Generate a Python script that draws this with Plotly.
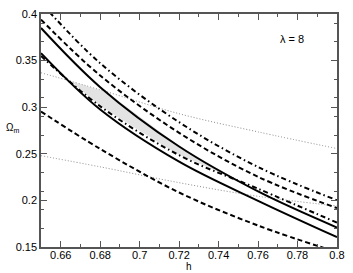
import numpy as np
import plotly.graph_objects as go

# ---- data ----
h = [0.65, 0.68, 0.72, 0.76, 0.80]
solid_upper = [0.385, 0.3215, 0.2578, 0.2096, 0.1709]
solid_lower = [0.358, 0.2975, 0.2415, 0.1995, 0.1605]
dashdot_upper = [0.412, 0.3472, 0.2839, 0.2358, 0.2002]
dashed_upper = [0.394, 0.334, 0.2725, 0.2253, 0.1918]
dashdot_lower = [0.355, 0.301, 0.2485, 0.2125, 0.1762]
dashed_lower = [0.2954, 0.2552, 0.2085, 0.173, 0.1445]
dotted_upper = [0.337, 0.3187, 0.293, 0.2735, 0.2556]
dotted_lower = [0.248, 0.236, 0.219, 0.2044, 0.194]

x_ticks = [0.66, 0.68, 0.70, 0.72, 0.74, 0.76, 0.78, 0.80]
x_ticktext = ["0.66", "0.68", "0.7", "0.72", "0.74", "0.76", "0.78", "0.8"]
y_ticks = [0.15, 0.20, 0.25, 0.30, 0.35, 0.40]
y_ticktext = ["0.15", "0.2", "0.25", "0.3", "0.35", "0.4"]
label_text = "λ = 8"

fig = go.Figure()

# shaded allowed region: below min(dotted upper, solid upper), above dash-dot lower
hg = np.linspace(h[0], h[-1], 600)
up = np.minimum(np.interp(hg, h, dotted_upper), np.interp(hg, h, solid_upper))
lo = np.interp(hg, h, dashdot_lower)
mask = up > lo
hx = hg[mask]
fig.add_trace(go.Scatter(
    x=np.concatenate([hx, hx[::-1]]),
    y=np.concatenate([up[mask], lo[mask][::-1]]),
    fill="toself", fillcolor="#e3e3e3", line=dict(width=0),
    mode="lines", hoverinfo="skip", showlegend=False))

def add(y, dash, width=2, color="black"):
    fig.add_trace(go.Scatter(x=h, y=y, mode="lines",
                             line=dict(color=color, width=width, dash=dash, shape="spline"),
                             showlegend=False))

add(dotted_upper, "1px,2px", 1, "#8a8a8a")
add(dotted_lower, "1px,2px", 1, "#8a8a8a")
add(dashdot_upper, "5px,3px,1.5px,3px")
add(dashed_upper, "5px,3px")
add(solid_upper, "solid")
add(solid_lower, "solid")
add(dashdot_lower, "5px,3px,1.5px,3px")
add(dashed_lower, "5px,3px")

font = dict(family="Liberation Sans, Arial, sans-serif", size=11, color="black")
small = dict(family="Liberation Sans, Arial, sans-serif", size=10, color="black")

W, H = 353 - 41 - 11, 273 - 8 - 26

fig.update_layout(
    width=353, height=273,
    margin=dict(l=41, r=11, t=8, b=26),
    paper_bgcolor="white", plot_bgcolor="white",
    font=font,
    xaxis=dict(range=[0.65, 0.8], tickvals=x_ticks, ticktext=x_ticktext,
               ticks="inside", ticklen=6, tickwidth=1, tickcolor="#555",
               ticklabelstandoff=-3,
               minor=dict(dtick=0.01, tick0=0.65, ticks="inside", ticklen=3, tickcolor="#555"),
               showline=True, linecolor="#555", linewidth=1.5, mirror="allticks",
               showgrid=False, zeroline=False, tickfont=font),
    yaxis=dict(range=[0.15, 0.4], tickvals=y_ticks, ticktext=y_ticktext,
               ticks="inside", ticklen=6, tickwidth=1, tickcolor="#555",
               minor=dict(dtick=0.02, tick0=0.15, ticks="inside", ticklen=3, tickcolor="#555"),
               showline=True, linecolor="#555", linewidth=1.5, mirror="allticks",
               showgrid=False, zeroline=False, tickfont=font),
    annotations=[
        dict(text="h", xref="paper", yref="paper", x=0.5, y=(247 - 266.5) / H,
             xanchor="center", yanchor="middle", showarrow=False, font=small),
        dict(text="Ω<sub>m</sub>", xref="paper", yref="paper",
             x=(3 - 41) / W, y=(247 - 125) / H, xanchor="left", yanchor="middle",
             showarrow=False, font=small),
        dict(text=label_text, xref="paper", yref="paper",
             x=(296 - 41) / W, y=(247 - 34) / H, xanchor="center", yanchor="middle",
             showarrow=False, font=font),
    ],
)

fig.write_html("out.html", config={"displayModeBar": False},
               post_script="document.body.style.margin='0';document.body.style.overflow='hidden';")
